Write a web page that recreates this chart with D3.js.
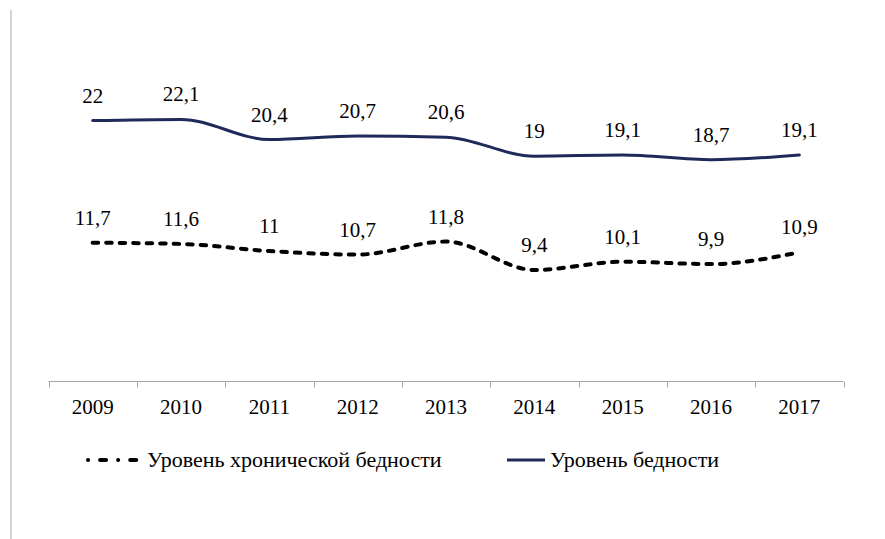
<!DOCTYPE html>
<html>
<head>
<meta charset="utf-8">
<script src="https://cdn.jsdelivr.net/npm/d3@7"></script>
<style>
  body { margin: 0; background: #fff; }
</style>
</head>
<body>
<svg id="chart" width="885" height="539"></svg>
<script>
// data
const years = ["2009", "2010", "2011", "2012", "2013", "2014", "2015", "2016", "2017"];
const poverty = [22, 22.1, 20.4, 20.7, 20.6, 19, 19.1, 18.7, 19.1];
const chronicPoverty = [11.7, 11.6, 11, 10.7, 11.8, 9.4, 10.1, 9.9, 10.9];
const seriesNames = ["Уровень хронической бедности", "Уровень бедности"];

const svg = d3.select("#chart");
const navy = "#1f2a5a";
const serif = '"Tinos"';

// thin gray edge on the left like the original frame
svg.append("line")
    .attr("x1", 11).attr("x2", 11)
    .attr("y1", 10).attr("y2", 539)
    .style("stroke", "#d4d4d4")
    .style("stroke-width", 2);

const x = d3.scaleBand().domain(years).range([48.5, 843.5]);
const y = d3.scaleLinear().domain([0, 25]).range([381.5, 85]);

// x axis
const xAxis = svg.append("g").attr("transform", "translate(0,381.5)");
xAxis.append("line")
    .attr("x1", x.range()[0]).attr("x2", x.range()[1])
    .style("stroke", "#a6a6a6");
const bounds = years.map(d => x(d)).concat([x.range()[1]]);
xAxis.selectAll(".tick")
    .data(bounds)
    .enter()
    .append("line")
    .attr("x1", d => Math.round(d) + 0.5).attr("x2", d => Math.round(d) + 0.5)
    .attr("y1", 0).attr("y2", 6)
    .style("stroke", "#a6a6a6");
xAxis.selectAll(".lbl")
    .data(years)
    .enter()
    .append("text")
    .attr("x", d => x(d) + x.bandwidth() / 2)
    .attr("y", 32)
    .attr("text-anchor", "middle")
    .style("font-family", serif)
    .style("font-size", "21px")
    .text(d => d);

const line = d3.line()
    .x((d, i) => x(years[i]) + x.bandwidth() / 2)
    .y(d => y(d))
    .curve(d3.curveMonotoneX);

const fmt = v => String(v).replace(".", ",");

function drawSeries(values, style) {
    const path = svg.append("path")
        .datum(values)
        .attr("d", line)
        .style("fill", "none")
        .style("stroke", style.color)
        .style("stroke-width", style.width)
        .style("stroke-linecap", "round");
    if (style.dash) path.style("stroke-dasharray", style.dash);

    svg.selectAll(null)
        .data(values)
        .enter()
        .append("text")
        .attr("x", (d, i) => x(years[i]) + x.bandwidth() / 2)
        .attr("y", d => y(d) - 18)
        .attr("text-anchor", "middle")
        .style("font-family", serif)
        .style("font-size", "21px")
        .text(d => fmt(d));
}

const dashedStyle = { color: "#000", width: 4, dash: "5.5,8" };
const solidStyle = { color: navy, width: 3 };

drawSeries(poverty, solidStyle);
drawSeries(chronicPoverty, dashedStyle);

// legend
const legend = svg.append("g").attr("transform", "translate(0,460)");
legend.append("line")
    .attr("x1", 88).attr("x2", 141)
    .style("stroke", "#000")
    .style("stroke-width", 4)
    .style("stroke-linecap", "round")
    .style("stroke-dasharray", "0.1,12,6,12");
legend.append("text")
    .attr("x", 147).attr("y", 7)
    .style("font-family", serif)
    .style("font-size", "22px")
    .text(seriesNames[0]);
legend.append("line")
    .attr("x1", 507).attr("x2", 545)
    .style("stroke", navy)
    .style("stroke-width", 3);
legend.append("text")
    .attr("x", 550).attr("y", 7)
    .style("font-family", serif)
    .style("font-size", "22px")
    .text(seriesNames[1]);
</script>
</body>
</html>
